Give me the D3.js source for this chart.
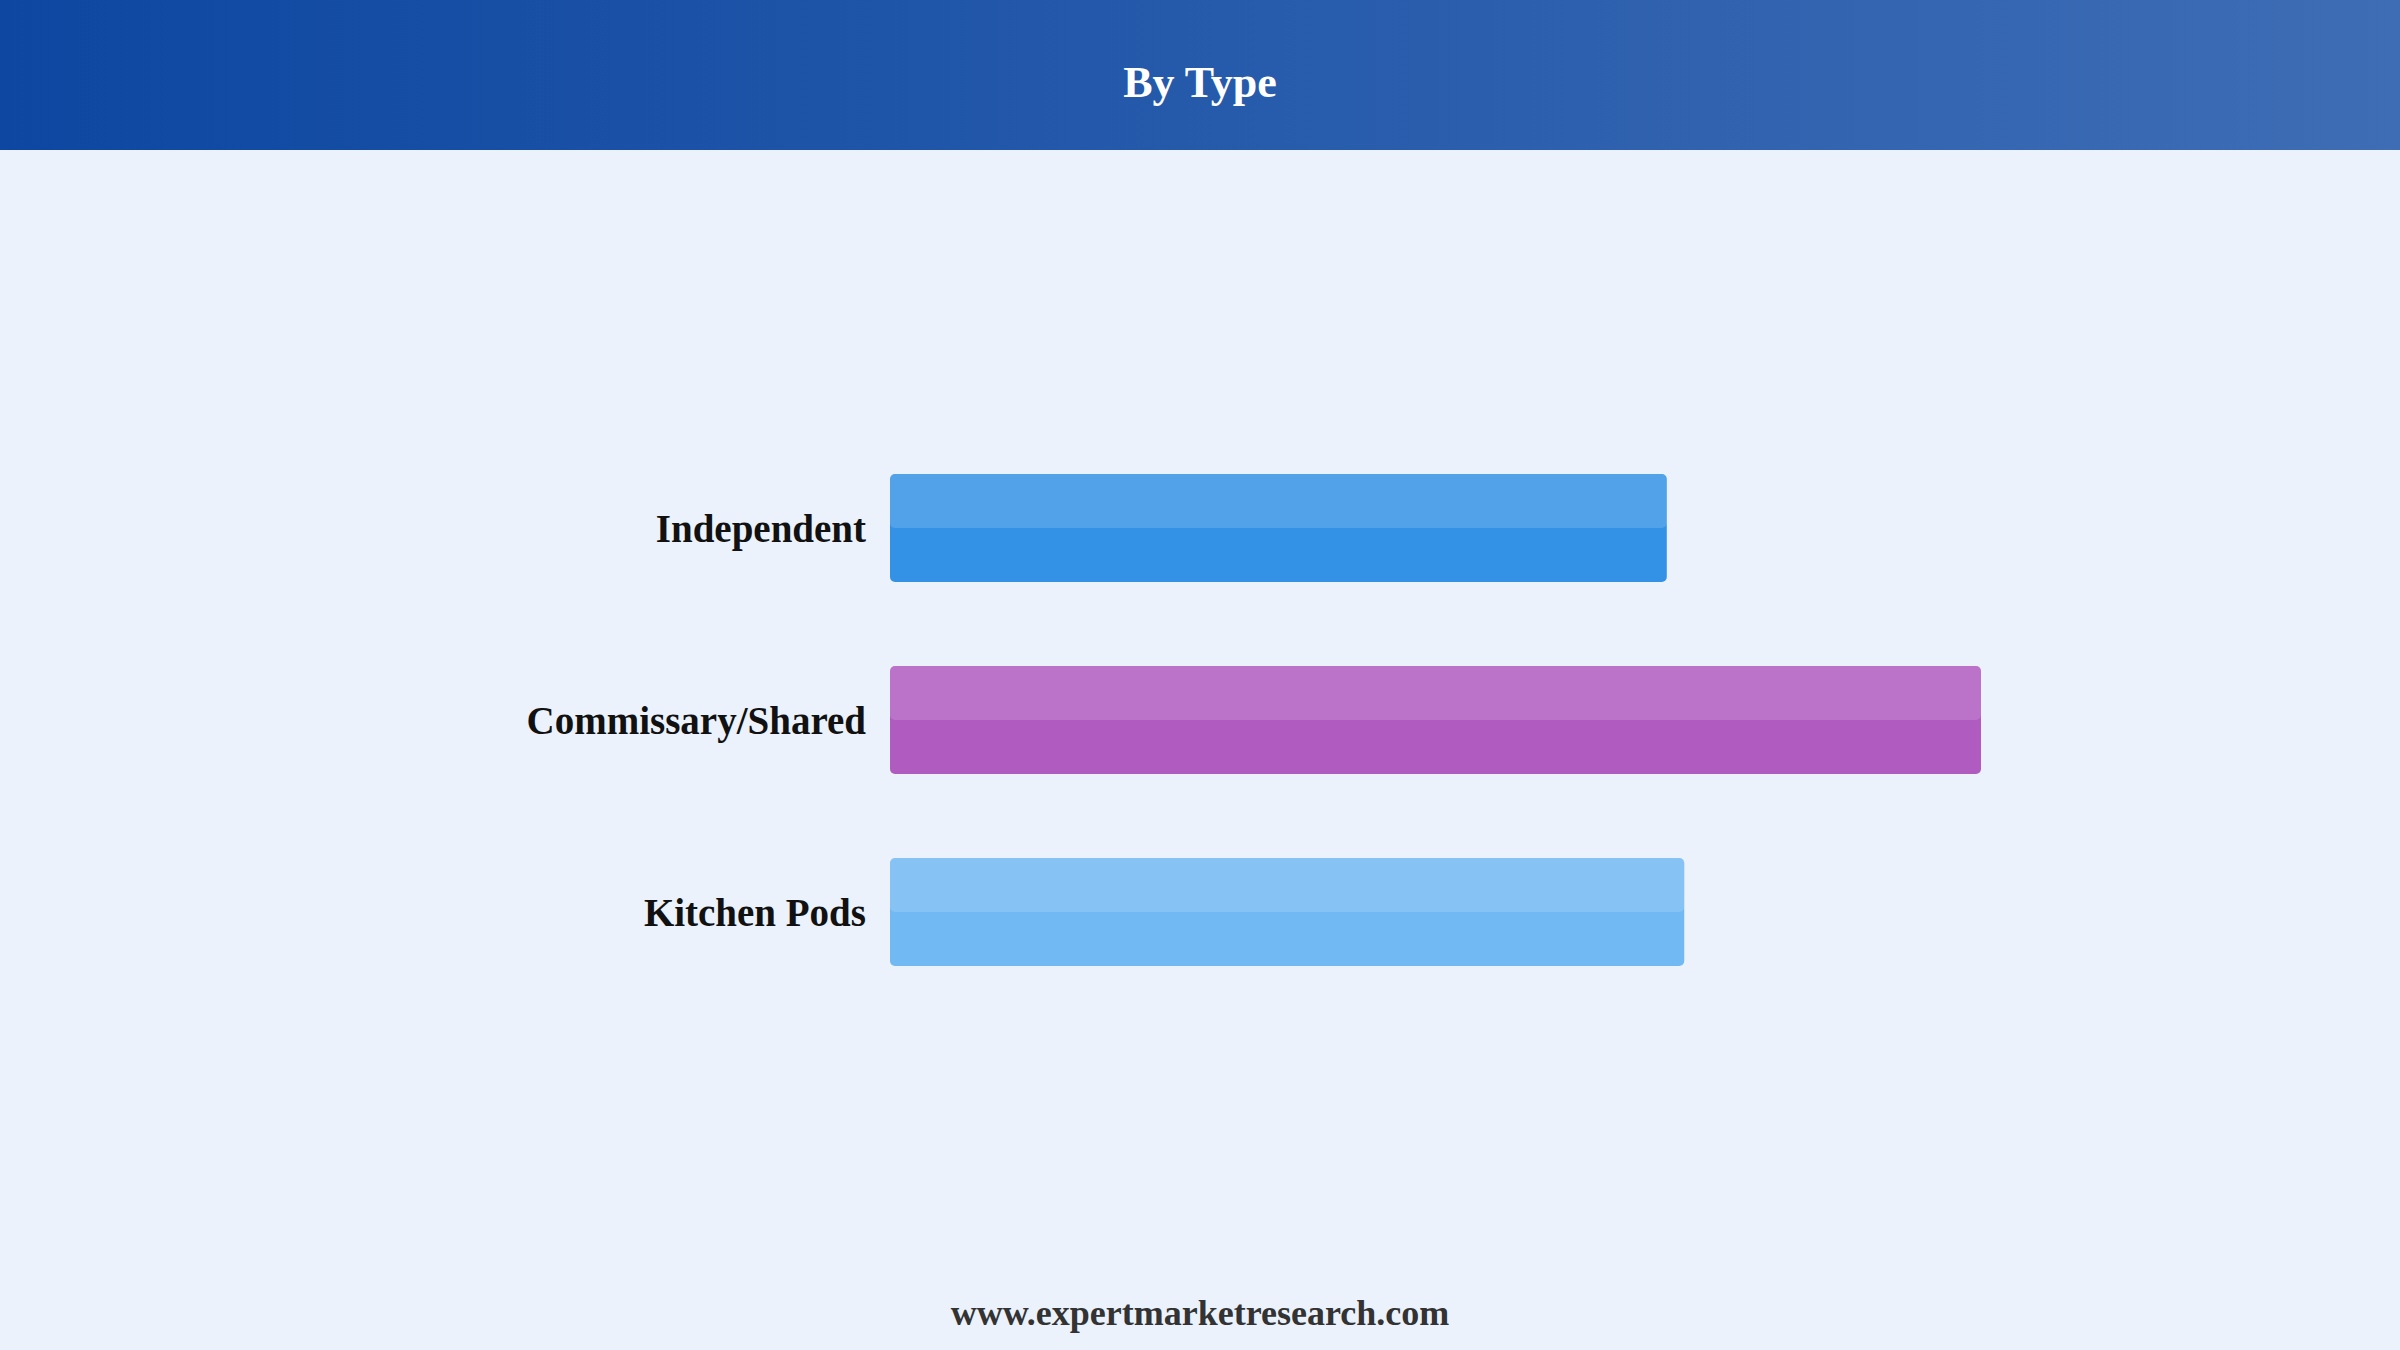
<!DOCTYPE html>
<html>
<head>
<meta charset="utf-8">
<script src="https://cdn.jsdelivr.net/npm/d3@7"></script>
<style>
  body { margin: 0; background: #ebf2fc; }
  svg { display: block; }
</style>
</head>
<body>
<script>
// chart data
var title = "By Type";
var categories = ["Independent", "Commissary/Shared", "Kitchen Pods"];
var values = [35.6, 50, 36.4];
var colors = ["#3392e6", "#b05bc0", "#71b9f3"];
var footer = "www.expertmarketresearch.com";

var w = 2400;
var h = 1350;
var headerH = 150;
var margin = {left: 890, top: 474, bottom: 384};

var svg = d3.select("body")
            .append("svg")
            .attr("width", w)
            .attr("height", h);

// header gradient
var grad = svg.append("defs")
              .append("linearGradient")
              .attr("id", "headGrad")
              .attr("x1", "0%").attr("x2", "100%")
              .attr("y1", "0%").attr("y2", "0%");
grad.append("stop").attr("offset", "0%").attr("stop-color", "#0d47a1");
grad.append("stop").attr("offset", "100%").attr("stop-color", "#3e6db5");

svg.append("rect")
   .attr("width", w)
   .attr("height", h)
   .style("fill", "#ebf2fc");

svg.append("rect")
   .attr("width", w)
   .attr("height", headerH)
   .style("fill", "url(#headGrad)");

svg.append("text")
   .attr("x", w / 2)
   .attr("y", 82)
   .attr("text-anchor", "middle")
   .attr("dominant-baseline", "central")
   .style("font-family", "'Liberation Serif', 'Times New Roman', serif")
   .style("font-weight", "bold")
   .style("font-size", "44px")
   .style("fill", "#ffffff")
   .text(title);

// scales
var xScale = d3.scaleLinear()
               .domain([0, 50])
               .range([margin.left, 1981]);

var yScale = d3.scaleBand()
               .domain(categories)
               .range([margin.top, h - margin.bottom])
               .paddingInner(0.4375)
               .paddingOuter(0);

var bars = svg.selectAll(".bar")
              .data(categories)
              .enter().append("g")
              .attr("class", "bar");

// base bar
bars.append("rect")
    .attr("x", xScale(0))
    .attr("y", function(d) { return yScale(d); })
    .attr("width", function(d, i) { return xScale(values[i]) - xScale(0); })
    .attr("height", yScale.bandwidth())
    .attr("rx", 5)
    .style("fill", function(d, i) { return colors[i]; });

// lighter top half
bars.append("rect")
    .attr("x", xScale(0))
    .attr("y", function(d) { return yScale(d); })
    .attr("width", function(d, i) { return xScale(values[i]) - xScale(0); })
    .attr("height", yScale.bandwidth() / 2)
    .attr("rx", 5)
    .style("fill", "#ffffff")
    .style("opacity", 0.15);

// category labels
bars.append("text")
    .attr("x", xScale(0) - 24)
    .attr("y", function(d) { return yScale(d) + yScale.bandwidth() / 2; })
    .attr("text-anchor", "end")
    .attr("dominant-baseline", "central")
    .style("font-family", "'Liberation Serif', 'Times New Roman', serif")
    .style("font-weight", "bold")
    .style("font-size", "39px")
    .style("fill", "#111111")
    .text(function(d) { return d; });

// footer
svg.append("text")
   .attr("x", w / 2)
   .attr("y", 1325)
   .attr("text-anchor", "middle")
   .style("font-family", "'Liberation Serif', 'Times New Roman', serif")
   .style("font-weight", "bold")
   .style("font-size", "36px")
   .style("fill", "#333333")
   .text(footer);
</script>
</body>
</html>
